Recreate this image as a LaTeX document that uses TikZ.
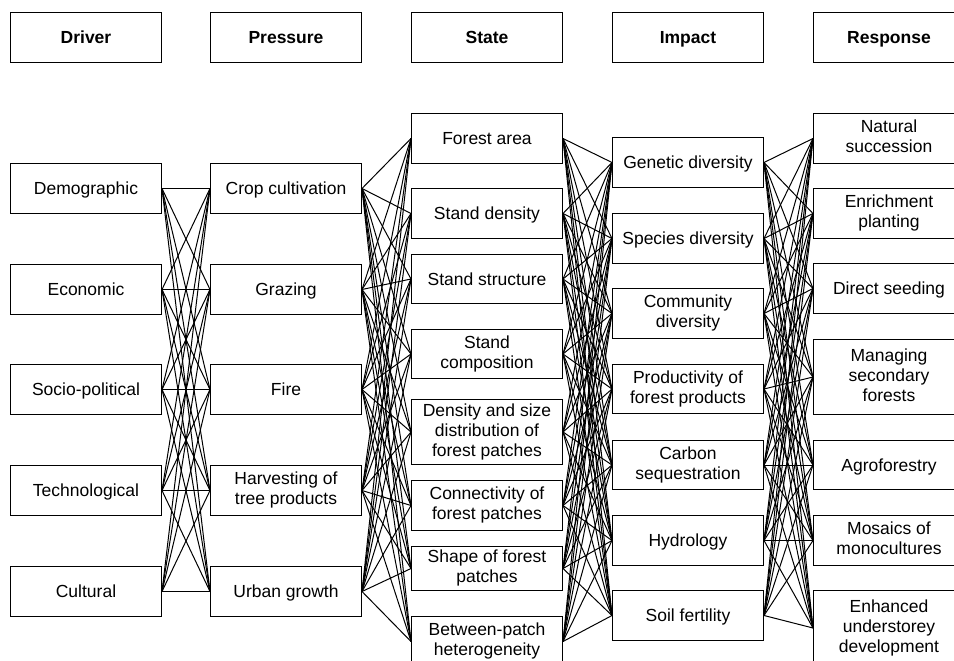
\documentclass[tikz,border=0pt]{standalone}
\usepackage{fontspec}
\setmainfont{Liberation Sans}
\newcommand\mystrut{\rule[-3.75pt]{0pt}{20pt}}
\begin{document}
\begin{tikzpicture}[x=1pt,y=-1pt,
  bx/.style={draw, line width=1pt, minimum width=151pt, inner sep=0pt, anchor=north west, align=center, font=\fontsize{17.5}{20}\selectfont, execute at begin node=\mystrut, execute at end node=\mystrut},
  hd/.style={bx, minimum height=50pt, font=\fontsize{17.5}{20}\selectfont\bfseries},
  ln/.style={line width=1pt}]
\useasboundingbox (0,0) rectangle (954,661);
\clip (0,0) rectangle (954,661);
% headers
\node[hd] (h1) at (10,12) {Driver};
\node[hd] (h2) at (210,12) {Pressure};
\node[hd] (h3) at (411,12) {State};
\node[hd] (h4) at (612,12) {Impact};
\node[hd] (h5) at (813,12) {Response};
% drivers
\node[bx, minimum height=50pt] (d1) at (10,163) {Demographic};
\node[bx, minimum height=50pt] (d2) at (10,264) {Economic};
\node[bx, minimum height=50pt] (d3) at (10,364) {Socio-political};
\node[bx, minimum height=50pt] (d4) at (10,465) {Technological};
\node[bx, minimum height=50pt] (d5) at (10,566) {Cultural};
% pressures
\node[bx, minimum height=50pt] (p1) at (210,163) {Crop cultivation};
\node[bx, minimum height=50pt] (p2) at (210,264) {Grazing};
\node[bx, minimum height=50pt] (p3) at (210,364) {Fire};
\node[bx, minimum height=50pt] (p4) at (210,465) {Harvesting of\\tree products};
\node[bx, minimum height=50pt] (p5) at (210,566) {Urban growth};
% states
\node[bx, minimum height=50pt] (s1) at (411,113) {Forest area};
\node[bx, minimum height=50pt] (s2) at (411,188) {Stand density};
\node[bx, minimum height=49pt] (s3) at (411,254) {Stand structure};
\node[bx, minimum height=49pt] (s4) at (411,329) {Stand\\composition};
\node[bx, minimum height=65pt] (s5) at (411,399) {Density and size\\distribution of\\forest patches};
\node[bx, minimum height=50pt] (s6) at (411,480) {Connectivity of\\forest patches};
\node[bx, minimum height=44pt] (s7) at (411,546) {Shape of forest\\patches};
\node[bx, minimum height=50pt] (s8) at (411,616) {Between-patch\\heterogeneity};
% impacts
\node[bx, minimum height=50pt] (i1) at (612,137) {Genetic diversity};
\node[bx, minimum height=50pt] (i2) at (612,213) {Species diversity};
\node[bx, minimum height=50pt] (i3) at (612,288) {Community\\diversity};
\node[bx, minimum height=49pt] (i4) at (612,364) {Productivity of\\forest products};
\node[bx, minimum height=49pt] (i5) at (612,440) {Carbon\\sequestration};
\node[bx, minimum height=50pt] (i6) at (612,515) {Hydrology};
\node[bx, minimum height=50pt] (i7) at (612,590) {Soil fertility};
% responses
\node[bx, minimum height=50pt] (r1) at (813,113) {Natural\\succession};
\node[bx, minimum height=50pt] (r2) at (813,188) {Enrichment\\planting};
\node[bx, minimum height=50pt] (r3) at (813,263) {Direct seeding};
\node[bx, minimum height=75pt] (r4) at (813,339) {Managing\\secondary\\forests};
\node[bx, minimum height=49pt] (r5) at (813,440) {Agroforestry};
\node[bx, minimum height=50pt] (r6) at (813,515) {Mosaics of\\monocultures};
\node[bx, minimum height=75pt] (r7) at (813,590) {Enhanced\\understorey\\development};
% connectors
\foreach \a in {1,...,5} \foreach \b in {1,...,5} \draw[ln] (d\a.east) -- (p\b.west);
\foreach \a in {1,...,5} \foreach \b in {1,...,8} \draw[ln] (p\a.east) -- (s\b.west);
\foreach \a in {1,...,8} \foreach \b in {1,...,7} \draw[ln] (s\a.east) -- (i\b.west);
\foreach \a in {1,...,7} \foreach \b in {1,...,7} \draw[ln] (i\a.east) -- (r\b.west);
\end{tikzpicture}
\end{document}
